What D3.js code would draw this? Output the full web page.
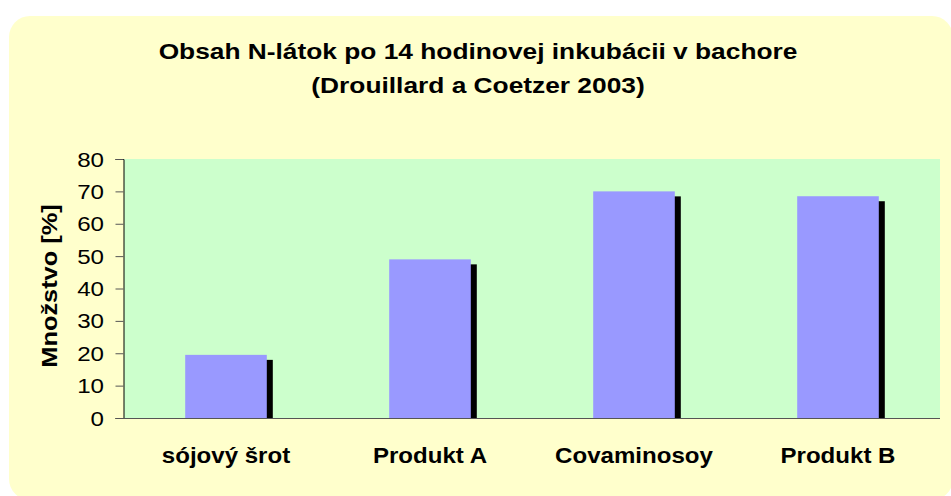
<!DOCTYPE html>
<html>
<head>
<meta charset="utf-8">
<script src="https://cdnjs.cloudflare.com/ajax/libs/d3/7.8.5/d3.min.js"></script>
<style>
  html, body { margin: 0; padding: 0; background: #fff; }
  svg { display: block; font-family: Arial, "Liberation Sans", sans-serif; }
</style>
</head>
<body>
<div id="chart"></div>
<script>
var categories = ['sójový šrot', 'Produkt A', 'Covaminosoy', 'Produkt B'];
var values = [19.5, 49, 70, 68.5];
var yTicks = [0, 10, 20, 30, 40, 50, 60, 70, 80];
var titleLines = ['Obsah N-látok po 14 hodinovej inkubácii v bachore', '(Drouillard a Coetzer 2003)'];
var yTitle = 'Množstvo [%]';

(function() {

  var width = 951, height = 496;
  var plot = {left: 124, right: 940, top: 159, bottom: 418};
  var stretch = 1.15;

  var svg = d3.select('#chart')
              .append('svg')
              .attr('width', width)
              .attr('height', height);

  // chart area background
  svg.append('rect')
     .attr('x', 9)
     .attr('y', 16)
     .attr('width', 944)
     .attr('height', 484)
     .attr('rx', 21)
     .attr('fill', '#ffffcc');

  svg.append('rect')
     .attr('x', plot.left)
     .attr('y', plot.top)
     .attr('width', plot.right - plot.left)
     .attr('height', plot.bottom - plot.top)
     .attr('fill', '#ccffcc');

  var x = d3.scaleBand()
    .domain(categories)
    .range([plot.left, plot.right])
    .paddingInner(0.6)
    .paddingOuter(0.3);

  var y = d3.scaleLinear()
    .domain([0, 80])
    .range([plot.bottom, plot.top]);

  var data = categories.map(function(c, i) { return {cat: c, value: values[i]}; });

  // shadows
  svg.append('g').selectAll('rect')
    .data(data)
    .enter()
    .append('rect')
    .attr('fill', '#000')
    .attr('x', function(d) { return x(d.cat) + 6; })
    .attr('y', function(d) { return y(d.value) + 5; })
    .attr('width', x.bandwidth())
    .attr('height', function(d) { return y(0) - y(d.value) - 5; });

  svg.append('g').selectAll('rect')
    .data(data)
    .enter()
    .append('rect')
    .attr('fill', '#9999ff')
    .attr('x', function(d) { return x(d.cat); })
    .attr('y', function(d) { return y(d.value); })
    .attr('width', x.bandwidth())
    .attr('height', function(d) { return y(0) - y(d.value); });

  // y axis
  var yAxis = svg.append('g')
    .attr('transform', 'translate(' + (plot.left - 0.5) + ',0)')
    .call(d3.axisLeft(y).tickValues(yTicks).tickSize(8).tickFormat(''));
  yAxis.select('.domain').attr('stroke', '#000');
  yAxis.selectAll('.tick line').attr('stroke', '#555');

  svg.append('g').selectAll('text')
    .data(yTicks)
    .enter()
    .append('text')
    .attr('transform', function(d) { return 'translate(104,' + (y(d) + 7.5) + ') scale(' + stretch + ',1)'; })
    .attr('text-anchor', 'end')
    .attr('font-size', 21)
    .attr('fill', '#000')
    .text(function(d) { return d; });

  // x axis line
  svg.append('line')
     .attr('x1', plot.left - 8)
     .attr('x2', plot.right)
     .attr('y1', plot.bottom + 0.5)
     .attr('y2', plot.bottom + 0.5)
     .attr('stroke', '#555');

  svg.append('g').selectAll('text')
    .data(categories)
    .enter()
    .append('text')
    .attr('transform', function(d) { return 'translate(' + (x(d) + x.bandwidth() / 2) + ',463) scale(' + 1.12 + ',1)'; })
    .attr('text-anchor', 'middle')
    .attr('font-size', 21.5)
    .attr('font-weight', 'bold')
    .text(function(d) { return d; });

  svg.append('text')
     .attr('transform', 'translate(57,286) rotate(-90) scale(1.18,1)')
     .attr('text-anchor', 'middle')
     .attr('font-size', 21.5)
     .attr('font-weight', 'bold')
     .text(yTitle);

  svg.append('g').selectAll('text')
    .data(titleLines)
    .enter()
    .append('text')
    .attr('transform', function(d, i) { return 'translate(478,' + (59 + i * 34) + ') scale(1.17,1)'; })
    .attr('text-anchor', 'middle')
    .attr('font-size', 22.5)
    .attr('font-weight', 'bold')
    .text(function(d) { return d; });

})()
</script>
</body>
</html>
